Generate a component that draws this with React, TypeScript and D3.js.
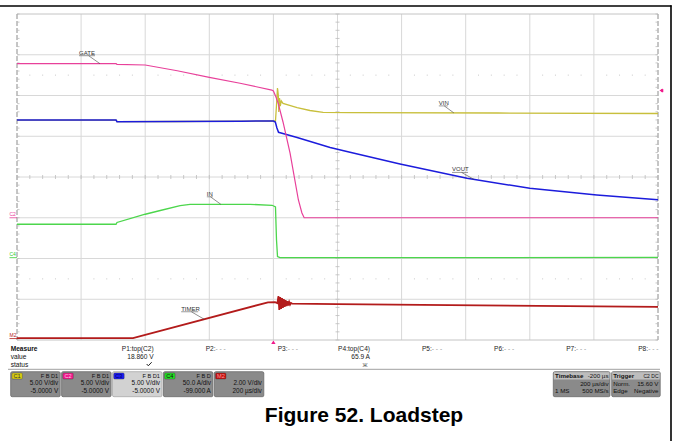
import React from "react";
import * as d3 from "d3";

// ---------- data (time in µs relative to trigger) ----------
const timeRange = [-800, 1200];
const divTimes = [-800, -600, -400, -200, 0, 200, 400, 600, 800, 1000, 1200];

const gateData: [number, number][] = [
  [-800, 18.9], [-491, 18.9], [-488, 18.82], [-400, 18.74], [-300, 18.04], [-200, 17.23],
  [-104, 16.5], [-5, 15.67], [0, 15.55], [8, 14.82], [15, 14.04], [30, 11.75], [52, 7.94],
  [78, 2.18], [89, 0.58], [96, 0], [1200, 0],
];
const voutData: [number, number][] = [
  [-800, 11.99], [-491, 11.99], [-488, 11.79], [-300, 11.81], [-100, 11.85], [0, 11.87],
  [6, 11.75], [11, 11.01], [16, 10.48], [24, 10.4], [74, 9.85], [177, 8.62], [239, 8.03],
  [395, 6.6], [604, 4.84], [800, 3.61], [1009, 2.79], [1200, 2.2],
];
const vinData: [number, number][] = [
  [-800, 11.99], [-491, 11.99], [-488, 11.79], [-300, 11.81], [-100, 11.85], [0, 11.87],
  [6.5, 11.87], [9.7, 13.83], [12.8, 15.92], [15.3, 15.06], [16.8, 12.98], [19, 14.69],
  [21.5, 13.71], [24.6, 14.33], [30, 14.02], [74, 13.5], [114, 13.16], [155, 12.94],
  [239, 12.9], [700, 12.85], [1200, 12.79],
];
const inData: [number, number][] = [
  [-800, 41], [-491, 41], [-488, 43.2], [-400, 53.3], [-353, 57.9], [-291, 63.8], [-260, 65.5],
  [-73, 65.5], [-4, 64.3], [6.5, 62.2], [9.7, 21.7], [12.8, 1.5], [20.6, 0], [1200, 0.3],
];
const timerData: [number, number][] = [
  [-800, 0.02], [-438, 0.02], [-17, 1.78], [5, 1.79], [12.8, 1.74], [15.6, 2.09], [18.4, 1.4],
  [21.2, 2.04], [24, 1.45], [26.8, 1.99], [29.6, 1.5], [32.4, 1.94], [35.2, 1.55], [38.1, 1.89],
  [40.9, 1.6], [43.7, 1.84], [46.5, 1.62], [49.3, 1.79], [52.1, 1.67], [54.9, 1.75], [58, 1.72],
  [199, 1.69], [551, 1.64], [1200, 1.56],
];

const measureCols = [
  { name: "P1:top(C2)", value: "18.860 V", status: "check" },
  { name: "P2:", value: "", status: "" },
  { name: "P3:", value: "", status: "" },
  { name: "P4:top(C4)", value: "65.9 A", status: "warn" },
  { name: "P5:", value: "", status: "" },
  { name: "P6:", value: "", status: "" },
  { name: "P7:", value: "", status: "" },
  { name: "P8:", value: "", status: "" },
];

const channelBoxes = [
  { tag: "C1", tagColor: "#d8cc10", tagText: "#333", flags: "F B D1", l2: "5.00 V/div", l3: "-5.0000 V", sel: false },
  { tag: "C2", tagColor: "#f0188a", tagText: "#ffc8e4", flags: "F B D1", l2: "5.00 V/div", l3: "-5.0000 V", sel: false },
  { tag: "C3", tagColor: "#1a1af0", tagText: "#000060", flags: "F B D1", l2: "5.00 V/div", l3: "-5.0000 V", sel: true },
  { tag: "C4", tagColor: "#22dd22", tagText: "#111", flags: "F B D", l2: "50.0 A/div", l3: "-99.000 A", sel: false },
  { tag: "M2", tagColor: "#c01010", tagText: "#ff9a9a", flags: "", l2: "2.00 V/div", l3: "200 µs/div", sel: false },
];

// ---------- layout ----------
const X0 = 17, X1 = 658, Y0 = 14, Y1 = 340;
const FONT = "'Liberation Sans', Arial, sans-serif";

const xs = d3.scaleLinear().domain(timeRange).range([X0, X1]);
const yDiv = d3.scaleLinear().domain([0, 8]).range([Y1, Y0]);
const yV = d3.scaleLinear().domain([-15, 25]).range([Y1, Y0]); // 5 V/div, offset -5 V
const yA = d3.scaleLinear().domain([-101, 299]).range([Y1, Y0]); // 50 A/div, offset -99 A
const yM = d3.scaleLinear().domain([-0.07, 15.93]).range([Y1, Y0]); // 2 V/div

function path(data: [number, number][], ys: d3.ScaleLinear<number, number>) {
  return d3.line<[number, number]>().x((d) => xs(d[0])).y((d) => ys(d[1]))(data) || "";
}

function interp(data: [number, number][], t: number) {
  for (let i = 1; i < data.length; i++) {
    if (t <= data[i][0]) {
      const [t0, v0] = data[i - 1];
      const [t1, v1] = data[i];
      return v0 + ((v1 - v0) * (t - t0)) / (t1 - t0);
    }
  }
  return data[data.length - 1][1];
}

function TraceLabel({ text, data, ys, t, dx, dy, w }: any) {
  const ex = xs(t);
  const ey = ys(interp(data, t));
  const tx = ex + dx;
  const ty = ey + dy;
  return (
    <g>
      <text x={tx} y={ty} fontSize={6} fill="#333" fontFamily={FONT}>{text}</text>
      <line x1={tx} x2={tx + w} y1={ty + 1} y2={ty + 1} stroke="#555" strokeWidth={0.6} />
      <line x1={tx + w * 0.6} y1={ty + 1} x2={ex} y2={ey} stroke="#444" strokeWidth={0.6} />
    </g>
  );
}

export default function App() {
  const majorX = divTimes.slice(1, -1).map((t) => xs(t));
  const majorY = d3.range(1, 8).map((d) => yDiv(d));
  const minorX = d3.range(0, 10.001, 0.2).map((d) => X0 + d * ((X1 - X0) / 10));
  const minorY = d3.range(0, 8.001, 0.2).map((d) => yDiv(d));
  const cx = xs(200);
  const cy = yDiv(4);
  const dotsX = d3.range(0, 10, 0.2).filter((d) => Math.abs(d - Math.round(d)) > 0.01).map((d) => X0 + d * ((X1 - X0) / 10));

  const colRight = (i: number) => 153.7 + i * 72.1;
  const boxX = (i: number) => 10.7 + i * 50.9;
  const by = 371.7;

  return (
    <svg width={674} height={441} style={{ position: "absolute", left: 0, top: 0, background: "#fff" }} fontFamily={FONT}>
      <rect x={0} y={0} width={674} height={441} fill="#fff" />
      {/* document frame */}
      <line x1={0} x2={671.5} y1={6} y2={6} stroke="#000" strokeWidth={1.6} />
      <line x1={671} x2={671} y1={5.2} y2={441} stroke="#000" strokeWidth={1.6} />

      {/* grid */}
      {majorX.map((x, i) => (
        <line key={"gx" + i} x1={x} x2={x} y1={Y0} y2={Y1} stroke="#d8d8d8" strokeWidth={1} />
      ))}
      {majorY.map((y, i) => (
        <line key={"gy" + i} x1={X0} x2={X1} y1={y} y2={y} stroke="#d8d8d8" strokeWidth={1} />
      ))}
      <line x1={X0} x2={X1} y1={Y0} y2={Y0} stroke="#c4c4c4" strokeWidth={1} />
      <line x1={X0} x2={X1} y1={Y1} y2={Y1} stroke="#c4c4c4" strokeWidth={1} />
      <line x1={X0} x2={X0} y1={Y0} y2={Y1} stroke="#8c8c8c" strokeWidth={1} strokeDasharray="5 2" />
      <line x1={X1} x2={X1} y1={Y0} y2={Y1} stroke="#8c8c8c" strokeWidth={1} strokeDasharray="5 2" />
      {/* center ticks */}
      {minorY.map((y, i) => (
        <g key={"ty" + i}>
          <line x1={cx - 2} x2={cx + 2} y1={y} y2={y} stroke="#bcbcbc" strokeWidth={0.8} />
          <line x1={X0} x2={X0 + 2.5} y1={y} y2={y} stroke="#bcbcbc" strokeWidth={0.8} />
          <line x1={X1 - 2.5} x2={X1} y1={y} y2={y} stroke="#bcbcbc" strokeWidth={0.8} />
        </g>
      ))}
      {minorX.map((x, i) => (
        <line key={"tx" + i} x1={x} x2={x} y1={cy - 2} y2={cy + 2} stroke="#bcbcbc" strokeWidth={0.8} />
      ))}
      {[1.5, 6.5].map((d) =>
        dotsX.map((x, i) => <rect key={"dot" + d + i} x={x - 0.5} y={yDiv(d) - 0.5} width={1} height={1} fill="#c8c8c8" />)
      )}

      {/* traces */}
      <path d={path(timerData, yM)} fill="none" stroke="#b31b1b" strokeWidth={1.8} />
      <path d={path(inData, yA)} fill="none" stroke="#4cd64c" strokeWidth={1.3} />
      <path d={path(vinData, yV)} fill="none" stroke="#c8bf3c" strokeWidth={1.3} />
      <path d={path(voutData, yV)} fill="none" stroke="#1c1cdc" strokeWidth={1.5} />
      <path d={path(gateData, yV)} fill="none" stroke="#e8409a" strokeWidth={1.2} />

      {/* trace labels */}
      <TraceLabel text="GATE" data={gateData} ys={yV} t={-541} dx={-21} dy={-9} w={16} />
      <TraceLabel text="VIN" data={vinData} ys={yV} t={563} dx={-15} dy={-8} w={9} />
      <TraceLabel text="VOUT" data={voutData} ys={yV} t={626} dx={-22} dy={-8} w={16} />
      <TraceLabel text="IN" data={inData} ys={yA} t={-164} dx={-14} dy={-8.5} w={6} />
      <TraceLabel text="TIMER" data={timerData} ys={yM} t={-216} dx={-23} dy={-8.5} w={17} />

      {/* channel ground markers */}
      {[
        { t: "C2", y: yV(0), c: "#e8409a" },
        { t: "C4", y: yA(0), c: "#33cc33" },
        { t: "M2", y: yM(0), c: "#b31b1b" },
      ].map((m) => (
        <g key={m.t}>
          <text x={9.5} y={m.y - 2} fontSize={5} fill={m.c}>{m.t}</text>
          <line x1={9.5} x2={X0} y1={m.y} y2={m.y} stroke={m.c} strokeWidth={0.8} />
        </g>
      ))}
      {/* trigger markers */}
      <path d={`M${xs(0)},${Y1 + 0.5} l-2.2,3.5 h4.4 z`} fill="#f0188a" />
      <path d={`M${X1 + 1.5},${yV(15.6)} l3,-2 v4 z`} fill="#f0188a" />
      <rect x={X1 + 3.5} y={yV(15.6) - 1.5} width={1.8} height={3} fill="#f0188a" />

      {/* measure table */}
      <text x={10.7} y={350.5} fontSize={6.6} fontWeight="bold" fill="#111">Measure</text>
      <text x={10.7} y={358.5} fontSize={6.6} fill="#111">value</text>
      <text x={10.7} y={366.5} fontSize={6.6} fill="#111">status</text>
      {measureCols.map((c, i) => (
        <g key={c.name + i}>
          <text x={colRight(i)} y={350.5} fontSize={6.6} textAnchor="end" fill="#222">
            {c.name}
            {c.value === "" ? <tspan fill="#9a9a9a">- - -</tspan> : null}
          </text>
          {c.value ? (
            <text x={colRight(i)} y={358.5} fontSize={6.6} textAnchor="end" fill="#222">{c.value}</text>
          ) : null}
          {c.status === "check" ? (
            <path d={`M${colRight(i) - 7},${364} l1.6,1.8 l3.4,-3.6`} fill="none" stroke="#222" strokeWidth={1} />
          ) : null}
          {c.status === "warn" ? (
            <text x={colRight(i) - 5} y={367} fontSize={5.5} textAnchor="middle" fill="#444">Ж</text>
          ) : null}
        </g>
      ))}
      <line x1={8} x2={660} y1={369.3} y2={369.3} stroke="#a0a0a0" strokeWidth={1} />

      {/* channel boxes */}
      {channelBoxes.map((b, i) => {
        const x = boxX(i);
        const r = x + 49.5 - 2;
        return (
          <g key={b.tag}>
            <rect x={x} y={by} width={49.5} height={25} rx={1.5} fill={b.sel ? "#d2d2d2" : "#8a8a8a"} stroke={b.sel ? "#a8a8a8" : "#6a6a6a"} strokeWidth={0.8} />
            <rect x={x + 1.2} y={by + 1.2} width={10.5} height={6.2} rx={1.2} fill={b.tagColor} stroke="#444" strokeWidth={0.4} />
            <text x={x + 2.8} y={by + 6.4} fontSize={5.6} fill={b.tagText}>{b.tag}</text>
            <text x={r} y={by + 6.3} fontSize={5.6} textAnchor="end" fill="#111">{b.flags}</text>
            <text x={r} y={by + 13.6} fontSize={6.4} textAnchor="end" fill="#111">{b.l2}</text>
            <text x={r} y={by + 21.6} fontSize={6.4} textAnchor="end" fill="#111">{b.l3}</text>
          </g>
        );
      })}

      {/* timebase box */}
      <g>
        <rect x={553.3} y={by} width={56.7} height={25} rx={1.5} fill="#8a8a8a" stroke="#6a6a6a" strokeWidth={0.8} />
        <rect x={553.8} y={by + 0.5} width={55.7} height={7.3} fill="#bdbdbd" />
        <text x={555} y={by + 6.3} fontSize={6.2} fontWeight="bold" fill="#111">Timebase</text>
        <text x={608.5} y={by + 6.3} fontSize={6.2} textAnchor="end" fill="#111">-200 µs</text>
        <text x={608.5} y={by + 13.8} fontSize={6.2} textAnchor="end" fill="#111">200 µs/div</text>
        <text x={555} y={by + 21.6} fontSize={6.2} fill="#111">1 MS</text>
        <text x={608.5} y={by + 21.6} fontSize={6.2} textAnchor="end" fill="#111">500 MS/s</text>
      </g>
      <g>
        <rect x={611.7} y={by} width={48.5} height={25} rx={1.5} fill="#8a8a8a" stroke="#6a6a6a" strokeWidth={0.8} />
        <rect x={612.2} y={by + 0.5} width={47.5} height={7.3} fill="#bdbdbd" />
        <text x={613.2} y={by + 6.3} fontSize={6.2} fontWeight="bold" fill="#111">Trigger</text>
        <text x={658.5} y={by + 6.1} fontSize={5} textAnchor="end" fill="#111">C2 DC</text>
        <text x={613.2} y={by + 13.8} fontSize={6.2} fill="#111">Norm.</text>
        <text x={658.5} y={by + 13.8} fontSize={6.2} textAnchor="end" fill="#111">15.60 V</text>
        <text x={613.2} y={by + 21.6} fontSize={6.2} fill="#111">Edge</text>
        <text x={658.5} y={by + 21.6} fontSize={6.2} textAnchor="end" fill="#111">Negative</text>
      </g>

      {/* caption */}
      <text x={364} y={421.5} fontSize={21} fontWeight="bold" textAnchor="middle" fill="#000">Figure 52. Loadstep</text>
    </svg>
  );
}
